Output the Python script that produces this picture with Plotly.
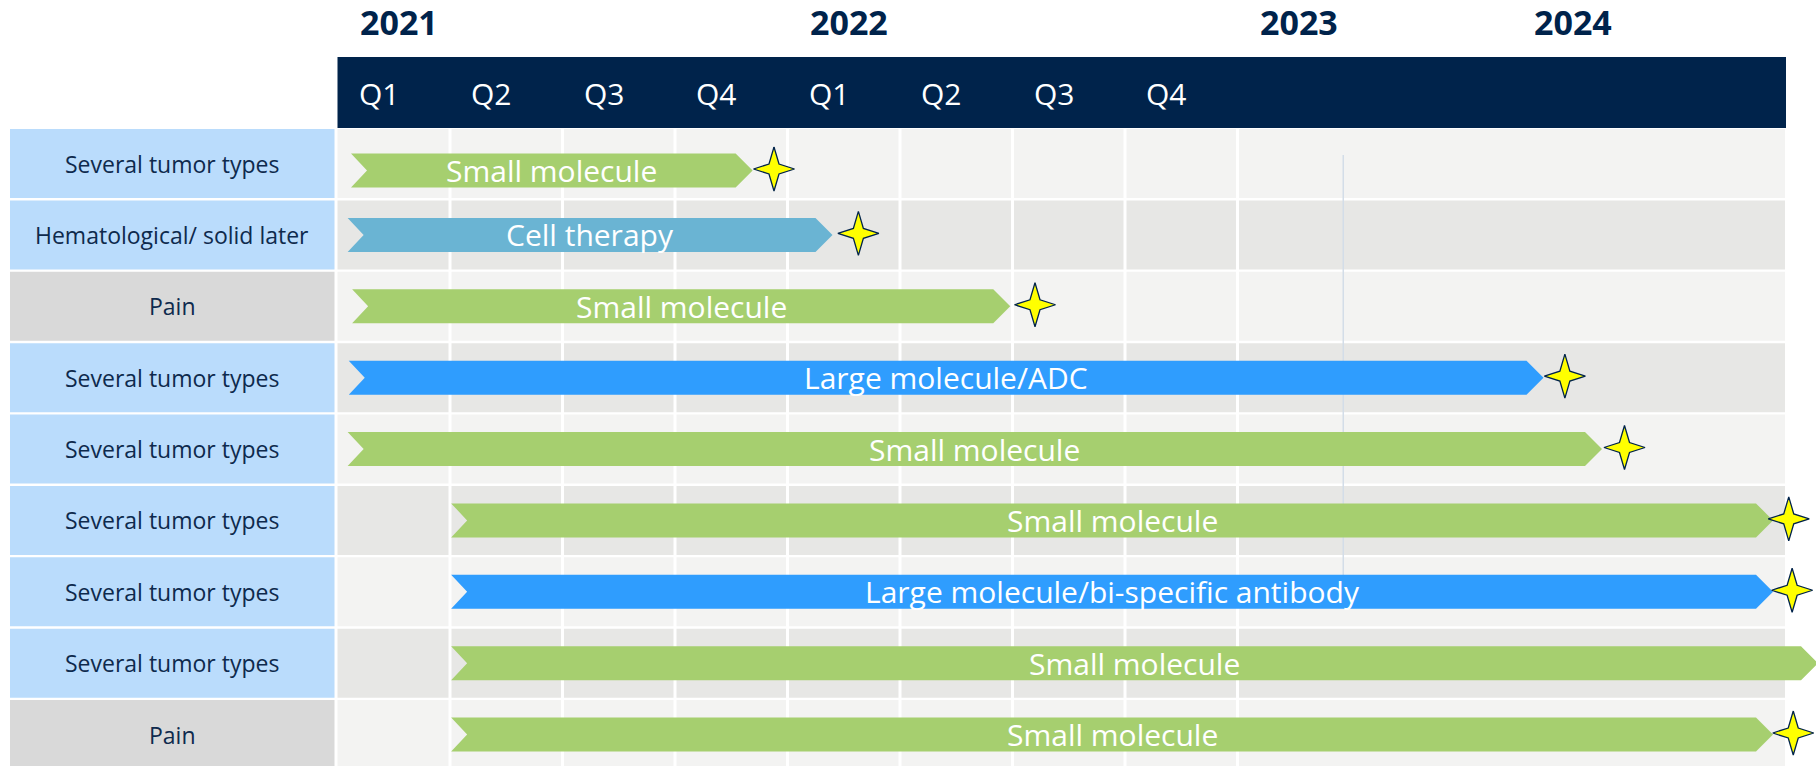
import plotly.graph_objects as go

# ---------------- data ----------------
row_labels = ["Several tumor types", "Hematological/ solid later", "Pain",
              "Several tumor types", "Several tumor types", "Several tumor types",
              "Several tumor types", "Several tumor types", "Pain"]
modalities = ["Small molecule", "Cell therapy", "Small molecule",
              "Large molecule/ADC", "Small molecule", "Small molecule",
              "Large molecule/bi-specific antibody", "Small molecule", "Small molecule"]
# timeline in quarters since 2021 Q1
bar_start = [0.12, 0.09, 0.13, 0.10, 0.09, 1.01, 1.01, 1.01, 1.01]
bar_end = [3.69, 4.40, 5.98, 10.72, 11.24, 12.76, 12.76, 13.16, 12.76]
milestones = [3.88, 4.63, 6.20, 10.91, 11.44, 12.90, 12.93, None, 12.94]
quarter_labels = ["Q1", "Q2", "Q3", "Q4", "Q1", "Q2", "Q3", "Q4"]
quarter_pos = [0, 1, 2, 3, 4, 5, 6, 7]
year_labels = ["2021", "2022", "2023", "2024"]
year_pos = [0, 4, 8, 10.44]
marker_line_pos = 8.94

# ---------------- style ----------------
NAVY = "#00234B"
TEXT_NAVY = "#0E2A4D"
LABEL_BLUE = "#BADCFC"
LABEL_GRAY = "#D9D9D9"
ROW_LIGHT = "#F3F3F2"
ROW_DARK = "#E7E7E5"
MOD_COLORS = {
    "Small molecule": "#A6CF6F",
    "Cell therapy": "#6AB4D3",
    "Large molecule/ADC": "#2F9DFE",
    "Large molecule/bi-specific antibody": "#2F9DFE",
}
FONT = "Open Sans"

# pixel geometry helpers (axes: 1 quarter = 112.5 px, 1 row = 71.375 px)
QPX = 112.5
RPX = 71.375
X0PX = 337.5
Y0PX = 163.5
W, H = 1816, 766
x_range = [-X0PX / QPX, (W - X0PX) / QPX]
y_range = [(H - Y0PX) / RPX, -Y0PX / RPX]

def qx(px):
    return px / QPX

def ry(px):
    return px / RPX

row_nudge = {0: ry(7)}

fig = go.Figure()
shapes = []

# header band
shapes.append(dict(type="rect", xref="x", yref="y", x0=0, x1=qx(1786 - X0PX),
                   y0=ry(57 - Y0PX), y1=ry(128 - Y0PX), fillcolor=NAVY,
                   line=dict(width=0), layer="below"))

n = len(row_labels)
half_row = ry(34.5)
for i in range(n):
    lab_col = LABEL_GRAY if row_labels[i] == "Pain" else LABEL_BLUE
    shapes.append(dict(type="rect", xref="x", yref="y", x0=qx(10 - X0PX), x1=qx(334.5 - X0PX),
                       y0=i - half_row, y1=i + half_row, fillcolor=lab_col,
                       line=dict(width=0), layer="below"))
    shapes.append(dict(type="rect", xref="x", yref="y", x0=0, x1=qx(1785 - X0PX),
                       y0=i - half_row, y1=i + half_row,
                       fillcolor=ROW_LIGHT if i % 2 == 0 else ROW_DARK,
                       line=dict(width=0), layer="below"))

# quarter gridlines
for q in range(1, 9):
    shapes.append(dict(type="line", xref="x", yref="y", x0=q, x1=q,
                       y0=-half_row, y1=n, line=dict(color="white", width=3),
                       layer="below"))

# faint marker line
shapes.append(dict(type="line", xref="x", yref="y", x0=marker_line_pos, x1=marker_line_pos,
                   y0=ry(155 - Y0PX), y1=ry(597 - Y0PX),
                   line=dict(color="#D3DDE8", width=1.5), layer="below"))

# chevron bars
notch = qx(16)
tip = qx(17)
hh = ry(17)
annotations = []
for i in range(n):
    s, e = bar_start[i], bar_end[i]
    c = i + row_nudge.get(i, 0)
    xs = [s, e - tip, e, e - tip, s, s + notch, s]
    ys = [c - hh, c - hh, c, c + hh, c + hh, c, c - hh]
    fig.add_trace(go.Scatter(x=xs, y=ys, mode="lines", fill="toself",
                             fillcolor=MOD_COLORS[modalities[i]],
                             line=dict(width=0), hoverinfo="skip", showlegend=False))
    annotations.append(dict(x=(s + e) / 2, y=c, xref="x", yref="y", text=modalities[i],
                            showarrow=False, xanchor="center", yanchor="middle",
                            font=dict(family=FONT, size=30, color="white")))
    annotations.append(dict(x=qx(172 - X0PX), y=i, xref="x", yref="y", text=row_labels[i],
                            showarrow=False, xanchor="center", yanchor="middle",
                            font=dict(family=FONT, size=23, color=TEXT_NAVY)))

# milestones: four-point stars
SRX, SRY, SIN = 20.5, 22.0, 5.0  # outer half-width, outer half-height, inner offset (px)
for i, m in enumerate(milestones):
    if m is None:
        continue
    c = i - ry(1.5) + row_nudge.get(i, 0)
    px_pts = [(0, -SRY), (SIN, -SIN), (SRX, 0), (SIN, SIN), (0, SRY),
              (-SIN, SIN), (-SRX, 0), (-SIN, -SIN), (0, -SRY)]
    fig.add_trace(go.Scatter(x=[m + qx(dx) for dx, dy in px_pts],
                             y=[c + ry(dy) for dx, dy in px_pts],
                             mode="lines", fill="toself", fillcolor="#FFFF00",
                             line=dict(color=NAVY, width=1.3),
                             hoverinfo="skip", showlegend=False))

# quarter labels
for lbl, q in zip(quarter_labels, quarter_pos):
    annotations.append(dict(x=q + qx(19), y=ry(93 - Y0PX), xref="x", yref="y", text=lbl,
                            showarrow=False, xanchor="left", yanchor="middle",
                            font=dict(family=FONT, size=30, color="white")))
# year labels
for lbl, q in zip(year_labels, year_pos):
    annotations.append(dict(x=q + qx(20), y=ry(22 - Y0PX), xref="x", yref="y",
                            text="<b>" + lbl + "</b>",
                            showarrow=False, xanchor="left", yanchor="middle",
                            font=dict(family=FONT, size=34, color=NAVY)))

fig.update_layout(
    width=W, height=H, margin=dict(l=0, r=0, t=0, b=0),
    paper_bgcolor="white", plot_bgcolor="white",
    shapes=shapes, annotations=annotations,
    xaxis=dict(range=x_range, visible=False, fixedrange=True),
    yaxis=dict(range=y_range, visible=False, fixedrange=True),
    showlegend=False,
)
fig.write_html("out.html", config={"displayModeBar": False},
               post_script="document.body.style.margin='0';document.body.style.overflow='hidden';")
